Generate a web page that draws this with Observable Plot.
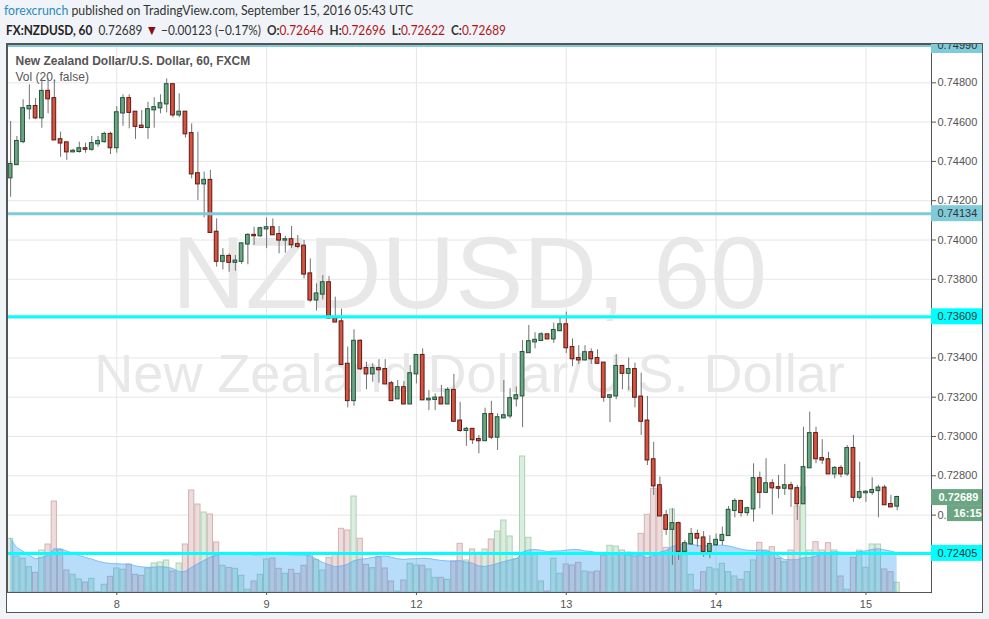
<!DOCTYPE html>
<html>
<head>
<meta charset="utf-8">
<script src="https://cdn.jsdelivr.net/npm/d3@7"></script>
<script src="https://cdn.jsdelivr.net/npm/@observablehq/plot@0.6"></script>
<style>
  html, body { margin: 0; padding: 0; background: #f0f3f7; }
  #wrap { position: relative; width: 989px; height: 619px; overflow: hidden; }
  .hdr { position: absolute; white-space: nowrap; font-family: Lato, "Liberation Sans", Arial, sans-serif; color: #333;
         transform: scaleX(0.91); transform-origin: 0 0; }
  #h1 { left: 4px; top: 2px; font-size: 13.5px; }
  #h2 { left: 6px; top: 21px; font-size: 13px; }
  #box { position: absolute; left: 6px; top: 43px; width: 975px; height: 568px; border: 1px solid #555; background: #fff; }
  .layer { position: absolute; left: 0; top: 44px; }
  .layer svg { display: block; }
</style>
</head>
<body>
<div id="wrap">
  <div id="h1" class="hdr"></div>
  <div id="h2" class="hdr"></div>
  <div id="box"></div>
  <div id="layerA" class="layer"></div>
  <div id="layerB" class="layer"></div>
  <div id="layerC" class="layer"></div>
</div>
<script>
// ---------- data (hourly candles, NZDUSD 60) ----------
const opens = [0.74317,0.74384,0.74501,0.74668,0.74679,0.74622,0.74756,0.74719,0.74510,0.74494,
0.74449,0.74451,0.74464,0.74462,0.74490,0.74501,0.74537,0.74470,0.74647,0.74719,
0.74650,0.74579,0.74573,0.74663,0.74673,0.74693,0.74790,0.74637,0.74650,0.74541,
0.74337,0.74286,0.74303,0.74039,0.73892,0.73916,0.73887,0.73892,0.73980,0.74023,
0.74022,0.74057,0.74062,0.74027,0.74000,0.74001,0.73976,0.73968,0.73827,0.73695,
0.73725,0.73782,0.73604,0.73583,0.73367,0.73183,0.73484,0.73345,0.73319,0.73345,
0.73340,0.73268,0.73192,0.73248,0.73166,0.73319,0.73412,0.73187,0.73189,0.73195,
0.73166,0.73234,0.73078,0.73031,0.73036,0.72984,0.72979,0.73111,0.72997,0.73095,
0.73105,0.73192,0.73207,0.73427,0.73482,0.73489,0.73517,0.73497,0.73539,0.73568,
0.73452,0.73396,0.73390,0.73426,0.73396,0.73373,0.73200,0.73207,0.73356,0.73322,
0.73340,0.73200,0.73078,0.72881,0.72749,0.72596,0.72528,0.72556,0.72416,0.72454,
0.72501,0.72483,0.72416,0.72450,0.72471,0.72496,0.72624,0.72669,0.72613,0.72632,
0.72785,0.72716,0.72759,0.72739,0.72737,0.72749,0.72734,0.72658,0.72841,0.73014,
0.72887,0.72881,0.72810,0.72837,0.72810,0.72938,0.72691,0.72714,0.72716,0.72725,
0.72737,0.72653,0.72646];
const highs = [0.74603,0.74527,0.74714,0.74790,0.74720,0.74822,0.74822,0.74812,0.74549,0.74495,
0.74462,0.74498,0.74493,0.74527,0.74527,0.74549,0.74549,0.74679,0.74739,0.74739,
0.74650,0.74659,0.74701,0.74724,0.74739,0.74820,0.74790,0.74744,0.74650,0.74591,
0.74549,0.74346,0.74354,0.74108,0.73956,0.73930,0.73921,0.73983,0.74032,0.74065,
0.74065,0.74112,0.74107,0.74069,0.74019,0.74069,0.74023,0.73998,0.73904,0.73777,
0.73819,0.73814,0.73709,0.73649,0.73455,0.73543,0.73492,0.73378,0.73370,0.73391,
0.73391,0.73280,0.73285,0.73280,0.73361,0.73412,0.73446,0.73234,0.73217,0.73260,
0.73248,0.73316,0.73174,0.73047,0.73039,0.73005,0.73144,0.73179,0.73116,0.73285,
0.73243,0.73252,0.73489,0.73565,0.73528,0.73528,0.73519,0.73577,0.73604,0.73633,
0.73497,0.73462,0.73462,0.73446,0.73441,0.73375,0.73209,0.73417,0.73361,0.73399,
0.73373,0.73322,0.73204,0.72970,0.72793,0.72624,0.72632,0.72564,0.72471,0.72532,
0.72524,0.72516,0.72495,0.72504,0.72539,0.72644,0.72683,0.72669,0.72640,0.72861,
0.72819,0.72887,0.72780,0.72802,0.72858,0.72767,0.72751,0.73047,0.73124,0.73047,
0.72984,0.72920,0.72847,0.72852,0.72954,0.73005,0.72869,0.72725,0.72790,0.72751,
0.72751,0.72700,0.72696];
const lows = [0.74218,0.74380,0.74490,0.74612,0.74613,0.74569,0.74642,0.74505,0.74421,0.74405,
0.74444,0.74442,0.74442,0.74452,0.74472,0.74493,0.74435,0.74442,0.74579,0.74566,
0.74512,0.74569,0.74512,0.74569,0.74642,0.74647,0.74622,0.74622,0.74519,0.74311,
0.74201,0.74113,0.74039,0.73862,0.73848,0.73836,0.73841,0.73876,0.73874,0.73973,
0.74014,0.73956,0.74023,0.73930,0.73933,0.73956,0.73956,0.73802,0.73683,0.73638,
0.73695,0.73597,0.73583,0.73361,0.73146,0.73154,0.73336,0.73238,0.73276,0.73271,
0.73268,0.73179,0.73192,0.73166,0.73166,0.73268,0.73187,0.73132,0.73132,0.73166,
0.73166,0.73071,0.73020,0.72950,0.72959,0.72912,0.72979,0.72984,0.72929,0.73095,
0.73090,0.73150,0.73045,0.73427,0.73446,0.73489,0.73497,0.73474,0.73532,0.73422,
0.73356,0.73367,0.73385,0.73367,0.73370,0.73174,0.73071,0.73187,0.73238,0.73234,
0.73146,0.73005,0.72852,0.72700,0.72596,0.72496,0.72344,0.72369,0.72395,0.72445,
0.72437,0.72386,0.72378,0.72440,0.72445,0.72496,0.72586,0.72590,0.72595,0.72564,
0.72632,0.72716,0.72601,0.72683,0.72700,0.72639,0.72573,0.72658,0.72841,0.72861,
0.72858,0.72810,0.72785,0.72790,0.72797,0.72665,0.72678,0.72665,0.72700,0.72586,
0.72649,0.72639,0.72622];
const closes = [0.74384,0.74501,0.74668,0.74679,0.74622,0.74756,0.74719,0.74510,0.74494,0.74449,
0.74451,0.74464,0.74462,0.74490,0.74501,0.74537,0.74470,0.74647,0.74719,0.74650,
0.74579,0.74573,0.74663,0.74673,0.74693,0.74790,0.74637,0.74650,0.74541,0.74337,
0.74286,0.74303,0.74039,0.73892,0.73916,0.73887,0.73892,0.73980,0.74023,0.74022,
0.74057,0.74062,0.74027,0.74000,0.74001,0.73976,0.73968,0.73827,0.73695,0.73725,
0.73782,0.73604,0.73583,0.73367,0.73183,0.73484,0.73345,0.73319,0.73345,0.73340,
0.73268,0.73183,0.73248,0.73166,0.73319,0.73412,0.73187,0.73189,0.73195,0.73166,
0.73234,0.73078,0.73031,0.73036,0.72984,0.72979,0.73111,0.72997,0.73095,0.73105,
0.73192,0.73207,0.73427,0.73482,0.73489,0.73517,0.73497,0.73539,0.73568,0.73452,
0.73396,0.73390,0.73426,0.73396,0.73373,0.73200,0.73207,0.73356,0.73322,0.73340,
0.73200,0.73078,0.72881,0.72749,0.72596,0.72528,0.72556,0.72416,0.72454,0.72501,
0.72483,0.72416,0.72450,0.72471,0.72496,0.72624,0.72669,0.72613,0.72632,0.72785,
0.72716,0.72759,0.72739,0.72737,0.72749,0.72734,0.72658,0.72841,0.73014,0.72887,
0.72881,0.72810,0.72837,0.72810,0.72938,0.72691,0.72714,0.72716,0.72725,0.72737,
0.72653,0.72642,0.72689];
const volumes = [537,360,337,253,197,420,480,910,427,220,
177,130,100,137,5,77,157,240,227,280,
177,167,240,290,300,320,210,290,480,1020,
880,800,780,500,267,247,237,167,27,110,
177,330,340,237,187,227,187,267,375,327,
220,347,377,637,620,960,537,277,243,353,
240,110,10,120,287,270,267,230,147,147,
127,310,487,320,430,380,430,530,610,720,
560,337,1360,547,380,110,10,337,187,280,
270,297,210,200,210,370,467,460,420,400,
370,587,777,1037,1037,447,830,687,420,177,
20,203,247,230,287,203,160,127,203,320,
497,420,453,337,303,420,860,1053,420,503,
420,493,420,160,27,347,420,247,480,480,
230,203,97];

const dayTicks = [17, 41, 65, 89, 113, 137];
const dayLabels = ["8", "9", "12", "13", "14", "15"];
const yTicks = [0.724,0.726,0.728,0.730,0.732,0.734,0.736,0.738,0.740,0.742,0.744,0.746,0.748];

const levels = [0.74990, 0.74134, 0.73609, 0.72405];
const levelColors = ["#80cbd9", "#80cbd9", "#00ffff", "#00ffff"];

const symbolTitle = "New Zealand Dollar/U.S. Dollar, 60, FXCM";
const volTitle = "Vol (20, false)";
const watermark1 = "NZDUSD, 60";
const watermark2 = "New Zealand Dollar/U.S. Dollar";
const timer = "16:15";
const changeText = "\u22120.00123 (\u22120.17%)";

// ---------- header ----------
const last = opens.length - 1;
const f5 = d3.format(".5f");
document.getElementById("h1").innerHTML =
  '<span style="color:#2a8ac6">forexcrunch</span> published on TradingView.com, September 15, 2016 05:43 UTC';
document.getElementById("h2").innerHTML =
  '<b style="color:#222">FX:NZDUSD, 60</b>&nbsp; ' + f5(closes[last]) +
  ' <span style="color:#8b0d0d;font-size:14px">\u25BC</span> ' + changeText +
  '&nbsp; <b>O:</b><span style="color:#b0161a">' + f5(opens[last]) + '</span>' +
  '&nbsp; <b>H:</b><span style="color:#b0161a">' + f5(highs[last]) + '</span>' +
  '&nbsp; <b>L:</b><span style="color:#b0161a">' + f5(lows[last]) + '</span>' +
  '&nbsp; <b>C:</b><span style="color:#b0161a">' + f5(closes[last]) + '</span>';

// ---------- table ----------
const candles = opens.map((o, i) => ({
  i, open: o, high: highs[i], low: lows[i], close: closes[i], vol: volumes[i], up: closes[i] >= o
}));

const xDomain = [-0.5, 147.5];
const yDomain = [0.72206, 0.74995];
const geom = {
  width: 989, height: 568,
  marginLeft: 7, marginRight: 58, marginTop: 0, marginBottom: 20
};
const font = "'Liberation Sans', Arial, sans-serif";
const baseStyle = {background: "transparent", overflow: "hidden", fontFamily: font, fontSize: "11px"};

// Layer A: grid, watermark, titles, axes
const plotA = Plot.plot({
  ...geom,
  style: baseStyle,
  x: {domain: xDomain},
  y: {domain: yDomain},
  marks: [
    Plot.gridY(yTicks, {stroke: "#e6e6e6", strokeOpacity: 1}),
    Plot.gridX(dayTicks, {stroke: "#e6e6e6", strokeOpacity: 1}),
    Plot.text([watermark1], {text: d => d, frameAnchor: "middle", lineAnchor: "middle", dy: -43,
      fontSize: 102, fill: "#e8e8e8", fontFamily: font}),
    Plot.text([watermark2], {text: d => d, frameAnchor: "middle", lineAnchor: "middle", dy: 56,
      fontSize: 54, fill: "#e8e8e8", fontFamily: font}),
    Plot.text([symbolTitle], {text: d => d, frameAnchor: "top-left", lineAnchor: "top", textAnchor: "start",
      dx: 8, dy: 12, fontSize: 12, fontWeight: "bold", fill: "#555"}),
    Plot.text([volTitle], {text: d => d, frameAnchor: "top-left", lineAnchor: "top", textAnchor: "start",
      dx: 8, dy: 28, fontSize: 12, fill: "#555"}),
    Plot.axisY(yTicks, {anchor: "right", tickSize: 4, tickPadding: 2, tickFormat: f5,
      fontSize: 11, color: "#555"}),
    Plot.axisX(dayTicks, {anchor: "bottom", tickSize: 3, tickPadding: 5,
      tickFormat: d => dayLabels[dayTicks.indexOf(d)], fontSize: 11, color: "#555"})
  ]
});
document.getElementById("layerA").appendChild(plotA);

// Layer B: volume + MA(20)
const plotB = Plot.plot({
  ...geom,
  style: baseStyle,
  x: {domain: xDomain, axis: null},
  y: {domain: [0, 5480], axis: null},
  marks: [
    Plot.rectY(candles, {
      x1: d => d.i - 0.5, x2: d => d.i + 0.5, y: "vol",
      fill: d => d.up ? "#dcecdf" : "#ecdcdc",
      stroke: d => d.up ? "#a9d3b5" : "#d5b3b4", strokeWidth: 1,
      insetLeft: 0.5, insetRight: 0.5
    }),
    Plot.areaY(candles, Plot.windowY({k: 20, anchor: "end"}, {
      x: "i", y: "vol", fill: "#2196f3", fillOpacity: 0.32
    })),
    Plot.lineY(candles, Plot.windowY({k: 20, anchor: "end"}, {
      x: "i", y: "vol", stroke: "#64b5f6", strokeWidth: 1, strokeOpacity: 0.7
    }))
  ]
});
document.getElementById("layerB").appendChild(plotB);

// Layer C: candles, level lines, labels
const plotC = Plot.plot({
  ...geom,
  style: baseStyle,
  x: {domain: xDomain, axis: null},
  y: {domain: yDomain, axis: null},
  marks: [
    Plot.ruleX(candles, {x: "i", y1: "low", y2: "high", stroke: "#737375", strokeWidth: 1}),
    Plot.rect(candles, {
      x1: d => d.i - 0.3, x2: d => d.i + 0.3, y1: "open", y2: "close",
      fill: d => d.up ? "#6ba583" : "#d75442",
      stroke: d => d.up ? "#225437" : "#5b1a13", strokeWidth: 1,
      insetTop: -0.6, insetBottom: -0.6
    }),
    Plot.ruleY(levels, {y: d => d, stroke: (d, i) => levelColors[i], strokeWidth: 3}),
    Plot.frame({stroke: "#555", strokeWidth: 1}),
    // level label boxes
    Plot.rect(levels, {
      x1: () => xDomain[1], x2: () => xDomain[1], y1: d => d, y2: d => d,
      insetTop: -8, insetBottom: -8, insetLeft: 0, insetRight: -51,
      fill: (d, i) => levelColors[i]
    }),
    Plot.text(levels, {y: d => d, text: d => f5(d), frameAnchor: "right", textAnchor: "start",
      dx: 6, fontSize: 11, fill: "#333"}),
    // current price label
    Plot.rect([closes[last]], {
      x1: () => xDomain[1], x2: () => xDomain[1], y1: d => d, y2: d => d,
      insetTop: -8, insetBottom: -8, insetLeft: 0, insetRight: -51, fill: "#6ba583"
    }),
    Plot.text([closes[last]], {y: d => d, text: d => f5(d), frameAnchor: "right", textAnchor: "start",
      dx: 7, fontSize: 11, fontWeight: "bold", fill: "#fff"}),
    Plot.rect([closes[last]], {
      x1: () => xDomain[1], x2: () => xDomain[1], y1: d => d, y2: d => d,
      insetTop: 8, insetBottom: -24, insetLeft: 16, insetRight: -51, fill: "#6ba583"
    }),
    Plot.text([closes[last]], {y: d => d, text: () => timer, frameAnchor: "right", textAnchor: "start",
      dx: 22, dy: 16, fontSize: 11, fontWeight: "bold", fill: "#fff"})
  ]
});
document.getElementById("layerC").appendChild(plotC);
</script>
</body>
</html>
